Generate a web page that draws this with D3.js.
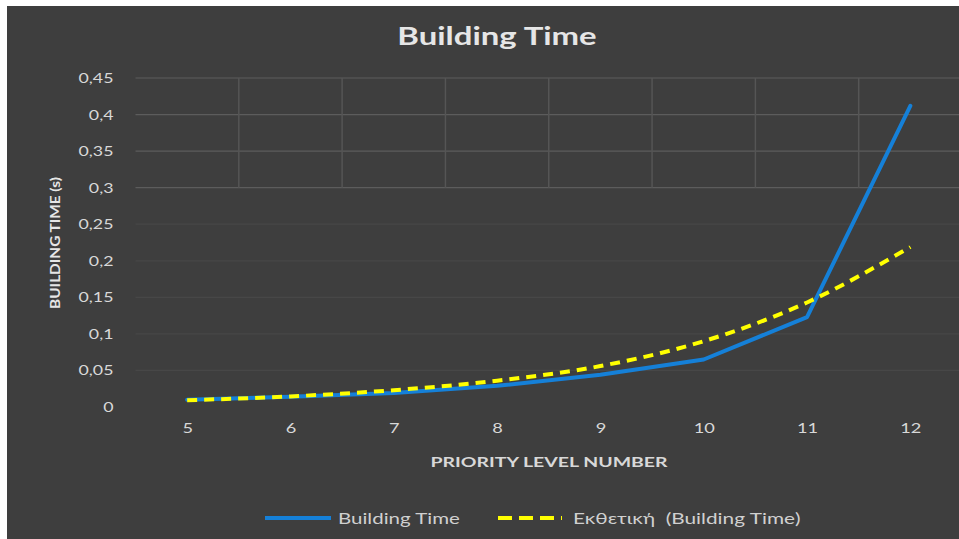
<!DOCTYPE html>
<html>
<head>
<meta charset="utf-8">
<script src="https://cdn.jsdelivr.net/npm/d3@7"></script>
<style>
  html, body { margin: 0; padding: 0; background: #ffffff; }
  svg { display: block; }
</style>
</head>
<body>
<svg id="chart" width="959" height="539"></svg>
<script>
// Priority levels on the category axis
const levels = ["5", "6", "7", "8", "9", "10", "11", "12"];
// Measured building time in seconds
const buildingTime = [0.010, 0.014, 0.019, 0.029, 0.044, 0.065, 0.123, 0.412];
// Exponential trendline values at each level
const trendTime = [0.0093, 0.0145, 0.023, 0.036, 0.056, 0.090, 0.143, 0.219];
// Value axis ticks
const yTicks = [0, 0.05, 0.1, 0.15, 0.2, 0.25, 0.3, 0.35, 0.4, 0.45];

const W = 959, H = 539;
const svg = d3.select("#chart");
const font = "Lato, 'Open Sans', sans-serif";
const fmt = v => String(v).replace(".", ",");

// Widen text horizontally by factor k (the chart uses a broad, wide-set face)
function widen(sel, k) {
  sel.each(function () {
    const len = this.getComputedTextLength();
    d3.select(this).attr("textLength", len * k).attr("lengthAdjust", "spacingAndGlyphs");
  });
}

// Chart frame
svg.append("rect").attr("x", 7).attr("y", 6).attr("width", W - 7).attr("height", H - 6)
  .attr("fill", "#3e3e3e");

const x0 = 135.5, x1 = 962, yTop = 78, yBot = 407;
const band = d3.scaleBand().domain(levels).range([x0, x1]);
const x = d3.scalePoint().domain(levels).range([x0, x1]).padding(0.5);
const y = d3.scaleLinear().domain([0, 0.45]).range([yBot, yTop]);

// Horizontal gridlines
const grid = svg.append("g");
grid.selectAll("line.h").data(yTicks.filter(d => d > 0)).join("line")
  .attr("x1", x0).attr("x2", W)
  .attr("y1", d => y(d)).attr("y2", d => y(d))
  .attr("stroke", d => d >= 0.3 ? "#5c5c5c" : "#474747")
  .attr("stroke-width", 1.2);

// Category boundary gridlines in the upper part of the plot
grid.selectAll("line.v").data(levels.slice(1)).join("line")
  .attr("x1", d => band(d)).attr("x2", d => band(d))
  .attr("y1", y(0.45)).attr("y2", y(0.3))
  .attr("stroke", "#555555").attr("stroke-width", 1.5);

// Y axis
const yAxis = svg.append("g").attr("transform", `translate(${x0 - 22},0)`)
  .call(d3.axisLeft(y).tickValues(yTicks).tickFormat(fmt).tickSize(0).tickPadding(0));
yAxis.select(".domain").remove();
yAxis.selectAll("text").attr("fill", "#d8d8d8").attr("font-family", font).attr("font-size", 14)
  .call(widen, 1.27);

// X axis
const xAxis = svg.append("g").attr("transform", `translate(0,${yBot + 16})`)
  .call(d3.axisBottom(x).tickSize(0).tickPadding(0));
xAxis.select(".domain").remove();
xAxis.selectAll("text").attr("fill", "#d8d8d8").attr("font-family", font).attr("font-size", 14)
  .call(widen, 1.3);

// Series lines
const line = d3.line().x((d, i) => x(levels[i])).y(d => y(d));
const smooth = d3.line().x((d, i) => x(levels[i])).y(d => y(d)).curve(d3.curveMonotoneX);

svg.append("path").datum(buildingTime).attr("d", line)
  .attr("fill", "none").attr("stroke", "#1580d8").attr("stroke-width", 4)
  .attr("stroke-linejoin", "round").attr("stroke-linecap", "round");

svg.append("path").datum(trendTime).attr("d", smooth)
  .attr("fill", "none").attr("stroke", "#ffff00").attr("stroke-width", 4)
  .attr("stroke-dasharray", "10,7");

// Titles
svg.append("text").attr("x", 497).attr("y", 45).attr("text-anchor", "middle")
  .attr("font-family", font).attr("font-weight", 700).attr("font-size", 24)
  .attr("fill", "#e6e6e6").text("Building Time").call(widen, 1.37);

svg.append("text").attr("transform", "translate(60,243) rotate(-90)")
  .attr("text-anchor", "middle").attr("font-family", font).attr("font-weight", 700)
  .attr("font-size", 13).attr("fill", "#e6e6e6").text("BUILDING TIME (s)").call(widen, 1.18);

svg.append("text").attr("x", 549).attr("y", 467).attr("text-anchor", "middle")
  .attr("font-family", font).attr("font-weight", 700).attr("font-size", 14)
  .attr("fill", "#d8d8d8").text("PRIORITY LEVEL NUMBER").call(widen, 1.39);

// Legend
const legend = svg.append("g").attr("font-family", font).attr("font-size", 16).attr("fill", "#d0d0d0");
legend.append("line").attr("x1", 265).attr("x2", 331).attr("y1", 518).attr("y2", 518)
  .attr("stroke", "#1580d8").attr("stroke-width", 4);
legend.append("text").attr("x", 338).attr("y", 524).text("Building Time").call(widen, 1.28);
legend.append("line").attr("x1", 498).attr("x2", 562).attr("y1", 518).attr("y2", 518)
  .attr("stroke", "#ffff00").attr("stroke-width", 4).attr("stroke-dasharray", "14,7");
legend.append("text").attr("x", 573).attr("y", 524).attr("xml:space", "preserve")
  .text("Εκθετική  (Building Time)").call(widen, 1.3);
</script>
</body>
</html>
